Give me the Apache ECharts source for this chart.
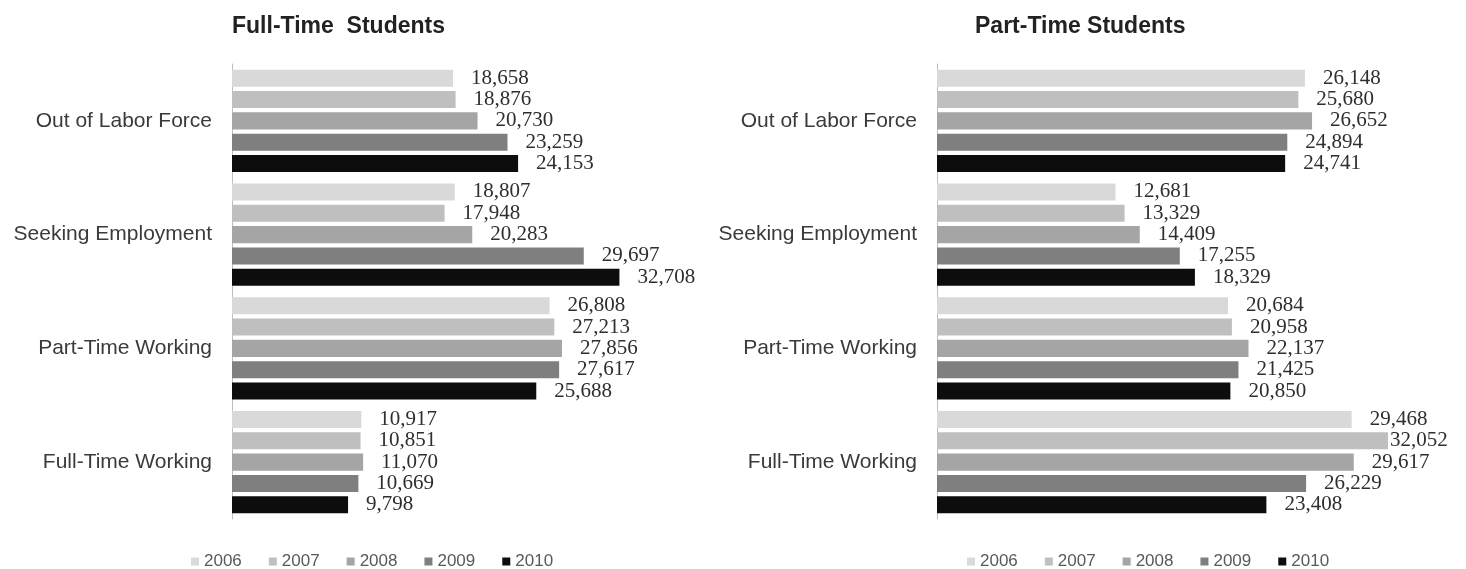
<!DOCTYPE html>
<html><head><meta charset="utf-8">
<script src="https://cdn.jsdelivr.net/npm/echarts@6/dist/echarts.min.js"></script>
<style>html,body{margin:0;padding:0;background:#fff}#c{width:1466px;height:569px}</style>
</head><body><div id="c"></div>
<script>
const categories = ['Out of Labor Force', 'Seeking Employment', 'Part-Time Working', 'Full-Time Working'];
const years = ['2006', '2007', '2008', '2009', '2010'];
// Full-time students, per year, values by category
const ft2006 = [18658, 18807, 26808, 10917];
const ft2007 = [18876, 17948, 27213, 10851];
const ft2008 = [20730, 20283, 27856, 11070];
const ft2009 = [23259, 29697, 27617, 10669];
const ft2010 = [24153, 32708, 25688, 9798];
// Part-time students
const pt2006 = [26148, 12681, 20684, 29468];
const pt2007 = [25680, 13329, 20958, 32052];
const pt2008 = [26652, 14409, 22137, 29617];
const pt2009 = [24894, 17255, 21425, 26229];
const pt2010 = [24741, 18329, 20850, 23408];
const titles = ['Full-Time  Students', 'Part-Time Students'];

const colors = ['#d9d9d9', '#bfbfbf', '#a5a5a5', '#7f7f7f', '#0d0d0d'];
const ftData = [ft2006, ft2007, ft2008, ft2009, ft2010];
const ptData = [pt2006, pt2007, pt2008, pt2009, pt2010];

const fmt = v => String(v).replace(/\B(?=(\d{3})+(?!\d))/g, ',');

function makeSeries(arrs, gi) {
  return arrs.map((arr, i) => ({
    name: years[i], type: 'bar', xAxisIndex: gi, yAxisIndex: gi,
    barGap: '25%', barCategoryGap: '10%',
    itemStyle: { color: colors[i] },
    label: {
      show: true, position: 'right', distance: 18,
      fontFamily: 'Liberation Serif', fontSize: 21, color: '#2e2e2e',
      formatter: p => fmt(p.value)
    },
    data: arr.map(v => v)
  }));
}

const series = makeSeries(ftData, 0).concat(makeSeries(ptData, 1));
// 32,052 label sits against its bar end in the reference
series[6].data = series[6].data.map((v, j) => j === 3 ? { value: v, label: { distance: 2 } } : v);

const yAx = gi => ({
  type: 'category', gridIndex: gi, data: categories, inverse: true,
  axisLine: { show: true, lineStyle: { color: '#bfbfbf', width: 1 } },
  axisTick: { show: false },
  axisLabel: { fontFamily: 'Liberation Sans', fontSize: 21, color: '#3a3a3a', margin: 20 }
});
const xAx = (gi, max) => ({
  type: 'value', gridIndex: gi, min: 0, max: max,
  show: false, splitLine: { show: false }
});
const legendStyle = {
  itemWidth: 8, itemHeight: 8, itemGap: 27, icon: 'rect',
  textStyle: { fontFamily: 'Liberation Sans', fontSize: 17, color: '#595959' },
  data: years
};
const titleStyle = { fontFamily: 'Liberation Sans', fontWeight: 'bold', fontSize: 23, color: '#222' };

const chart = echarts.init(document.getElementById('c'), null, { renderer: 'canvas' });
chart.setOption({
  animation: false,
  title: [
    { text: titles[0], left: 227, top: 10, textStyle: titleStyle },
    { text: titles[1], left: 970, top: 10, textStyle: titleStyle }
  ],
  grid: [
    { left: 232, top: 64, width: 473.8, height: 455 },
    { left: 937, top: 64, width: 492.5, height: 455 }
  ],
  xAxis: [xAx(0, 40000), xAx(1, 35000)],
  yAxis: [yAx(0), yAx(1)],
  legend: [
    Object.assign({ left: 186, top: 548 }, legendStyle),
    Object.assign({ left: 962, top: 548 }, legendStyle)
  ],
  series: series
});
</script></body></html>
